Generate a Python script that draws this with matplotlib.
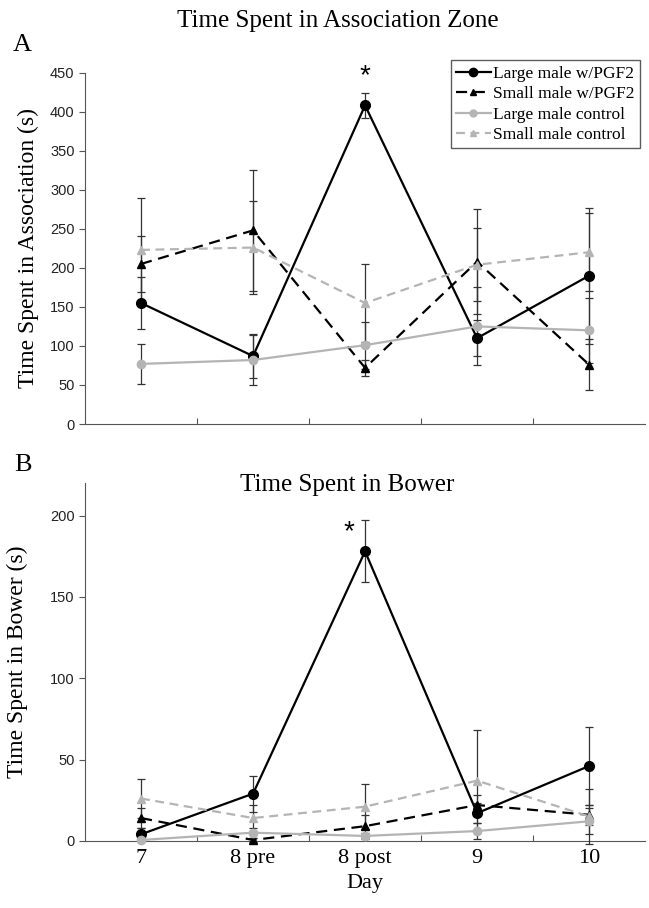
import numpy as np
import matplotlib.pyplot as plt
from matplotlib.lines import Line2D

# --- DATA ---
days = ['7', '8 pre', '8 post', '9', '10']

# Panel A: time in association zone (s)
assoc_large_pgf = [155, 87, 408, 110, 190]
assoc_large_pgf_err = [33, 28, 16, 23, 87]
assoc_small_pgf = [205, 248, 72, 208, 76]
assoc_small_pgf_err = [36, 77, 10, 67, 33]
assoc_large_ctrl = [77, 82, 101, 125, 120]
assoc_large_ctrl_err = [26, 32, 30, 50, 42]
assoc_small_ctrl = [223, 226, 155, 204, 220]
assoc_small_ctrl_err = [67, 59, 50, 47, 50]

# Panel B: time in bower (s)
bower_large_pgf = [4, 29, 178, 17, 46]
bower_large_pgf_err = [4, 11, 19, 6, 24]
bower_small_pgf = [14, 0.5, 9, 22, 16]
bower_small_pgf_err = [6, 1, 7, 6, 6]
bower_large_ctrl = [0.5, 5, 3, 6, 12]
bower_large_ctrl_err = [0.5, 3, 2, 5, 8]
bower_small_ctrl = [26, 14, 21, 37, 15]
bower_small_ctrl_err = [12, 8, 14, 31, 17]

labels = ['Large male w/PGF2', 'Small male w/PGF2', 'Large male control', 'Small male control']

serif = 'Liberation Serif'
sans = 'Liberation Sans'
gray = '#b4b4b4'

styles = [
    dict(color='black', linestyle='-', marker='o', markersize=7),
    dict(color='black', linestyle=(0, (5, 3)), marker='^', markersize=6),
    dict(color=gray, linestyle='-', marker='o', markersize=6),
    dict(color=gray, linestyle=(0, (4, 2.5)), marker='^', markersize=6),
]

fig = plt.figure(figsize=(6.49, 9.08), dpi=100)
axA = fig.add_axes([0.131, 0.533, 0.863, 0.387])
axB = fig.add_axes([0.131, 0.074, 0.863, 0.394])

x = np.arange(len(days))


def draw(ax, series, errs):
    for vals, err, st in zip(series, errs, styles):
        ax.errorbar(x, vals, yerr=err, color=st['color'], linestyle=st['linestyle'],
                    marker=st['marker'], markersize=st['markersize'], linewidth=1.6,
                    ecolor='#333333', elinewidth=0.9, capsize=3, capthick=0.9,
                    clip_on=False, zorder=3)
    ax.set_xlim(-0.5, 4.5)
    ax.spines['top'].set_visible(False)
    ax.spines['right'].set_visible(False)
    ax.spines['left'].set_color('#555555')
    ax.spines['bottom'].set_color('#555555')
    # ticks between categories, labels at category centres
    ax.set_xticks(np.arange(0.5, 4.5, 1.0))
    ax.tick_params(axis='x', direction='in', length=4, color='#555555')
    ax.tick_params(axis='y', direction='out', length=4, color='#555555', labelsize=10.5)


draw(axA, [assoc_large_pgf, assoc_small_pgf, assoc_large_ctrl, assoc_small_ctrl],
     [assoc_large_pgf_err, assoc_small_pgf_err, assoc_large_ctrl_err, assoc_small_ctrl_err])
axA.set_ylim(0, 450)
axA.set_yticks(np.arange(0, 451, 50))
for t in axA.get_yticklabels():
    t.set_fontfamily(sans)
    t.set_color('#222222')
axA.set_xticklabels([])
axA.set_ylabel('Time Spent in Association (s)', fontfamily=serif, fontsize=17, labelpad=8)
axA.text(2, 445, '*', ha='center', va='center', fontsize=20, fontfamily=sans, clip_on=False)

# legend handles without error bars
handles = [Line2D([], [], color=st['color'], linestyle=st['linestyle'], marker=st['marker'],
                  markersize=st['markersize'] - 1, linewidth=1.6) for st in styles]
leg = axA.legend(handles, labels, loc='upper right', bbox_to_anchor=(1.0, 1.05), frameon=True,
                 fancybox=False, edgecolor='#333333', prop={'family': serif, 'size': 12.5},
                 handlelength=2.0, handletextpad=0.15, borderpad=0.3, labelspacing=0.25,
                 borderaxespad=0.3)
leg.get_frame().set_linewidth(1.0)

draw(axB, [bower_large_pgf, bower_small_pgf, bower_large_ctrl, bower_small_ctrl],
     [bower_large_pgf_err, bower_small_pgf_err, bower_large_ctrl_err, bower_small_ctrl_err])
axB.set_ylim(0, 220)
axB.set_yticks(np.arange(0, 201, 50))
for t in axB.get_yticklabels():
    t.set_fontfamily(sans)
    t.set_color('#222222')
axB.set_xticks(x, minor=True)
axB.set_xticklabels(days, minor=True, fontfamily=serif, fontsize=16)
axB.set_xticklabels([])
axB.tick_params(axis='x', which='minor', length=0, pad=6)
axB.set_xlabel('Day', fontfamily=serif, fontsize=16)
axB.set_ylabel('Time Spent in Bower (s)', fontfamily=serif, fontsize=17, labelpad=16)
axB.text(1.86, 190, '*', ha='center', va='center', fontsize=20, fontfamily=sans)

fig.text(0.52, 0.977, 'Time Spent in Association Zone', ha='center', va='center',
         fontfamily=serif, fontsize=18)
fig.text(0.035, 0.950, 'A', ha='center', va='center', fontfamily=serif, fontsize=19)
fig.text(0.035, 0.488, 'B', ha='center', va='center', fontfamily=serif, fontsize=19)
fig.text(0.535, 0.466, 'Time Spent in Bower', ha='center', va='center',
         fontfamily=serif, fontsize=18)

fig.savefig('out.png', dpi=100)
